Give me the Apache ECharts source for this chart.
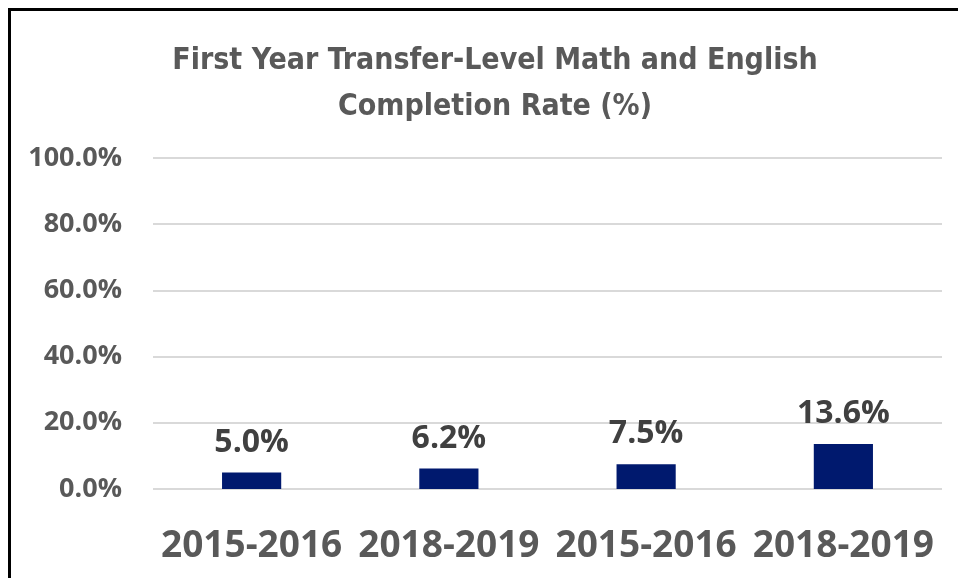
<!DOCTYPE html>
<html>
<head>
<meta charset="utf-8">
<script src="https://cdn.jsdelivr.net/npm/echarts@6/dist/echarts.min.js"></script>
<style>
  html, body { margin: 0; padding: 0; background: #fff; }
  .wrap { position: relative; width: 958px; height: 578px; overflow: hidden; }
  .frame {
    position: absolute; left: 8px; top: 8px; width: 1000px; height: 600px;
    border-left: 3px solid #000; border-top: 3px solid #000;
  }
  #main { position: absolute; left: 0; top: 0; width: 958px; height: 578px; }
</style>
</head>
<body>
<div class="wrap">
  <div class="frame"></div>
  <div id="main"></div>
</div>
<script>
// chart data
const categories = ["2015-2016", "2018-2019", "2015-2016", "2018-2019"];
const rates = [5.0, 6.2, 7.5, 13.6];
const titleLines = ["First Year Transfer-Level Math and English", "Completion Rate (%)"];

const chartInstance = echarts.init(document.getElementById("main"));

const option = {
  animation: false,
  title: {
    text: titleLines.join("\n"),
    left: 490,
    top: 33,
    textAlign: "center",
    textStyle: {
      color: "#595959",
      fontFamily: "Liberation Sans Narrow, DejaVu Sans Condensed, sans-serif",
      fontWeight: "bold",
      fontSize: 30,
      lineHeight: 46,
    },
  },
  grid: {
    left: 153,
    right: 16,
    top: 158,
    bottom: 89,
    containLabel: false,
  },
  xAxis: {
    type: "category",
    data: categories,
    axisLine: { show: false },
    axisTick: { show: false },
    axisLabel: {
      interval: 0,
      hideOverlap: false,
      color: "#595959",
      fontFamily: "Open Sans",
      fontWeight: "bold",
      fontSize: 37,
      margin: 39,
    },
  },
  yAxis: {
    type: "value",
    min: 0,
    max: 100,
    interval: 20,
    axisLine: { show: false },
    axisTick: { show: false },
    splitLine: { lineStyle: { color: "#D9D9D9", width: 2 } },
    axisLabel: {
      color: "#595959",
      fontFamily: "Open Sans",
      fontWeight: "bold",
      fontSize: 27,
      margin: 31,
      formatter: (v) => v.toFixed(1) + "%",
    },
  },
  series: [
    {
      name: "Completion Rate",
      type: "bar",
      data: rates,
      barWidth: "30%",
      itemStyle: { color: "#00196E" },
      label: {
        show: true,
        position: "top",
        distance: 14,
        color: "#404040",
        fontFamily: "Open Sans",
        fontWeight: "bold",
        fontSize: 32,
        formatter: (p) => p.value.toFixed(1) + "%",
      },
    },
  ],
};

chartInstance.setOption(option);
</script>
</body>
</html>
